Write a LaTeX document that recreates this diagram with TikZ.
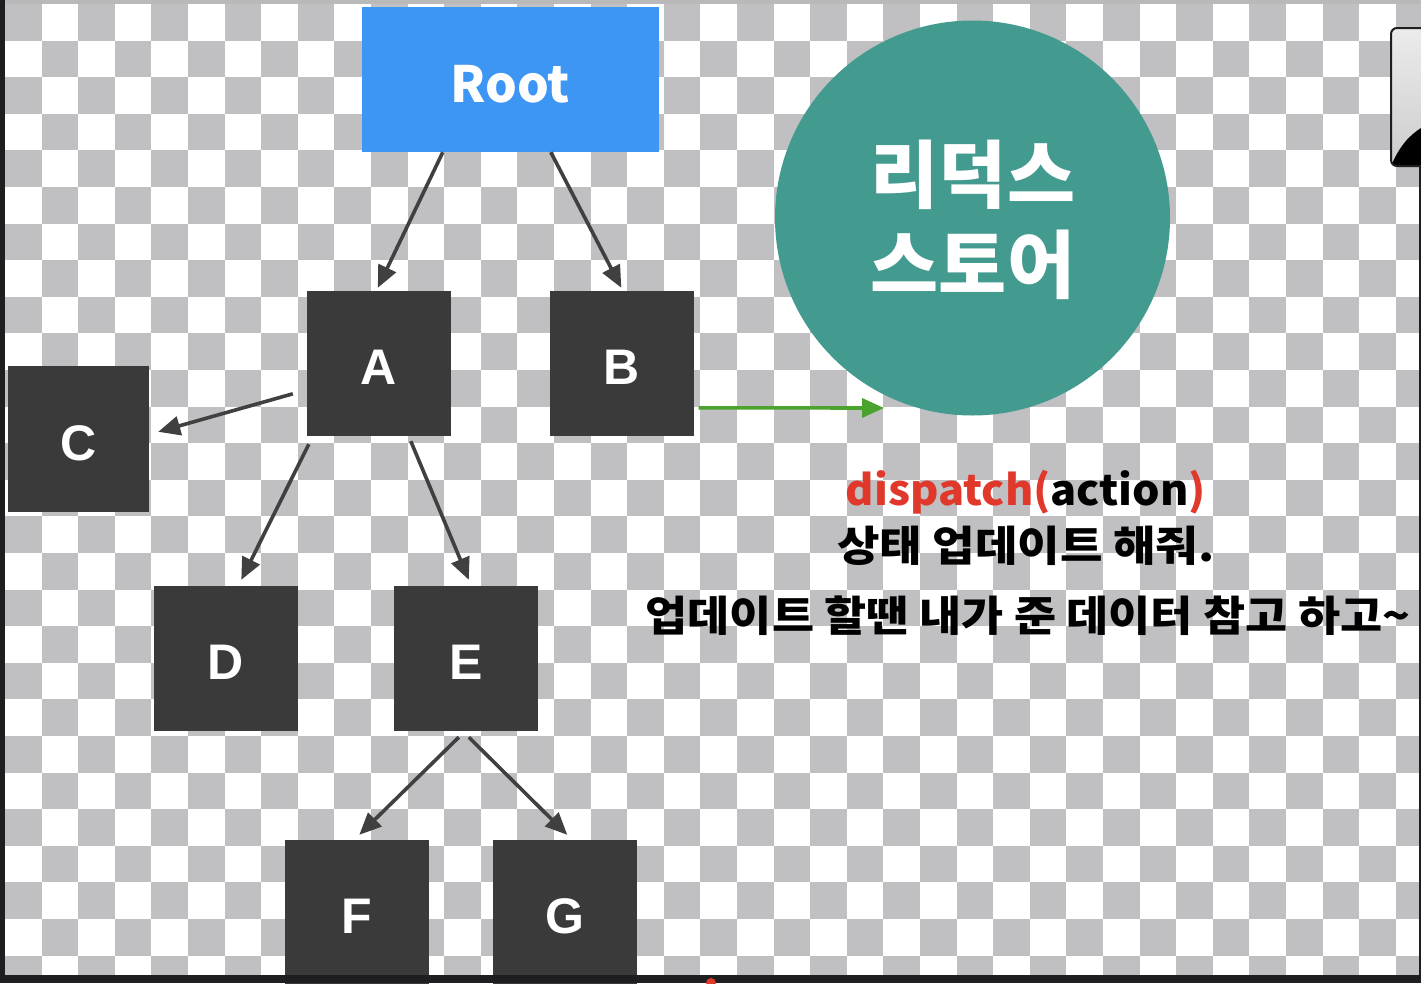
\documentclass[tikz,border=0pt]{standalone}
\usepackage{fontspec}
\setmainfont{Liberation Sans}
\newfontfamily\kr{Noto Sans CJK KR}
\usetikzlibrary{arrows.meta,calc}
\definecolor{chk}{HTML}{C0BFC2}
\definecolor{rootblue}{HTML}{3D95F4}
\definecolor{boxdark}{HTML}{3A3A3A}
\definecolor{teal}{HTML}{439A8F}
\definecolor{arrgray}{HTML}{404040}
\definecolor{agreen}{HTML}{4AA32D}
\definecolor{dred}{HTML}{E0392B}
\definecolor{frame}{HTML}{1E1E20}
\tikzset{
  nodebox/.style={rectangle,fill=boxdark,text=white,inner sep=0pt,
    minimum width=144pt,minimum height=145pt,text height=42pt,text depth=0pt,
    font=\bfseries\fontsize{50}{56}\selectfont},
  arr/.style={draw=arrgray,line width=3.6pt,-{Triangle[length=22pt,width=19pt]}},
  garr/.style={draw=agreen,line width=3.6pt,-{Triangle[length=22pt,width=19pt]}},
  krline/.style={anchor=base,inner sep=0pt,font=\kr\bfseries\fontsize{42}{50}\selectfont}
}
\begin{document}
\begin{tikzpicture}[x=1pt,y=-1pt]
\useasboundingbox (0,0) rectangle (1421,983);
% background
\fill[white] (0,0) rectangle (1421,983);
\begin{scope}
\clip (5,4) rectangle (1421,975);
\foreach \i in {0,2,...,38}{
  \foreach \j in {0,2,...,26}{
    \fill[chk] ({5+36.6*\i},{4+36.6*\j}) rectangle ++(36.6,36.6);
    \fill[chk] ({5+36.6*(\i+1)},{4+36.6*(\j+1)}) rectangle ++(36.6,36.6);
  }
}
\end{scope}
% frame edges
\fill[gray!55] (0,0) rectangle (1421,4);
\fill[frame] (0,0) rectangle (5,983);
\fill[frame] (0,975) rectangle (1421,983);
\fill[frame] (1419,166) rectangle (1421,975);
\fill[dred] (711,983) circle (5);
% thumbnail at right edge
\begin{scope}
\clip[rounded corners=6pt] (1391,28) rectangle (1430,166);
\shade[top color=gray!15,bottom color=gray!40] (1391,28) rectangle (1430,166);
\fill[black] (1391,166) .. controls (1400,145) and (1410,135) .. (1421,128) -- (1421,166) -- cycle;
\end{scope}
\draw[rounded corners=6pt,draw=frame,line width=2pt] (1391,28) rectangle (1430,166);

% nodes
\node[rectangle,fill=rootblue,text=white,minimum width=297pt,minimum height=145pt,inner sep=0pt,
  text height=46pt,text depth=0pt,
  font=\kr\bfseries\fontsize{50}{56}\selectfont] (root) at (510.5,79.5) {Root};
\node[nodebox] (A) at (379,363.5) {A};
\node[nodebox] (B) at (621.5,363.5) {B};
\node[nodebox,minimum width=141pt,minimum height=146pt] (C) at (78.5,439) {C};
\node[nodebox] (D) at (225.5,658.5) {D};
\node[nodebox] (E) at (466,658.5) {E};
\node[nodebox] (F) at (356.5,912.5) {F};
\node[nodebox] (G) at (564.5,912.5) {G};
\fill[frame] (285,975) rectangle (640,983);

\node[circle,fill=teal,minimum size=395pt,inner sep=0pt] (store) at (972.5,218) {};
\node[anchor=base,inner sep=0pt,text=white,font=\kr\bfseries\fontsize{74}{88}\selectfont] (s1) at (973,202) {리덕스};
\node[anchor=base,inner sep=0pt,text=white,font=\kr\bfseries\fontsize{74}{88}\selectfont] (s2) at (973,292) {스토어};

% connectors
\draw[arr] ($(root.south west)+(81,0)$) -- ($(A.north west)+(71,-3)$);
\draw[arr] ($(root.south west)+(189,0)$) -- ($(B.north west)+(72,-3)$);
\draw[arr] ($(A.north west)+(-14,103)$) -- ($(C.north east)+(9,66)$);
\draw[arr] ($(A.south west)+(2,8)$) -- ($(D.north west)+(88,-6)$);
\draw[arr] ($(A.south west)+(104,5)$) -- ($(E.north west)+(75,-6)$);
\draw[arr] ($(E.south west)+(65,6)$) -- ($(F.north west)+(75,-5)$);
\draw[arr] ($(E.south west)+(75,6)$) -- ($(G.north west)+(75,-5)$);
\coordinate (gend) at (884,408);
\draw[garr] ($(B.north east)+(5,117)$) -- (gend);

% texts
\node[anchor=base,inner sep=0pt,font=\kr\bfseries\fontsize{42}{50}\selectfont] (disp) at (1026,505)
  {\scalebox{1.03}[1]{\textcolor{dred}{dispatch(}action\textcolor{dred}{)}}};
\node[krline] (l2) at (1026,561) {\scalebox{1.1}[1]{상태 업데이트 해줘.}};
\node[krline] (l3) at (1028,631) {\scalebox{1.09}[1]{업데이트 할땐 내가 준 데이터 참고 하고\textasciitilde}};
\end{tikzpicture}
\end{document}
